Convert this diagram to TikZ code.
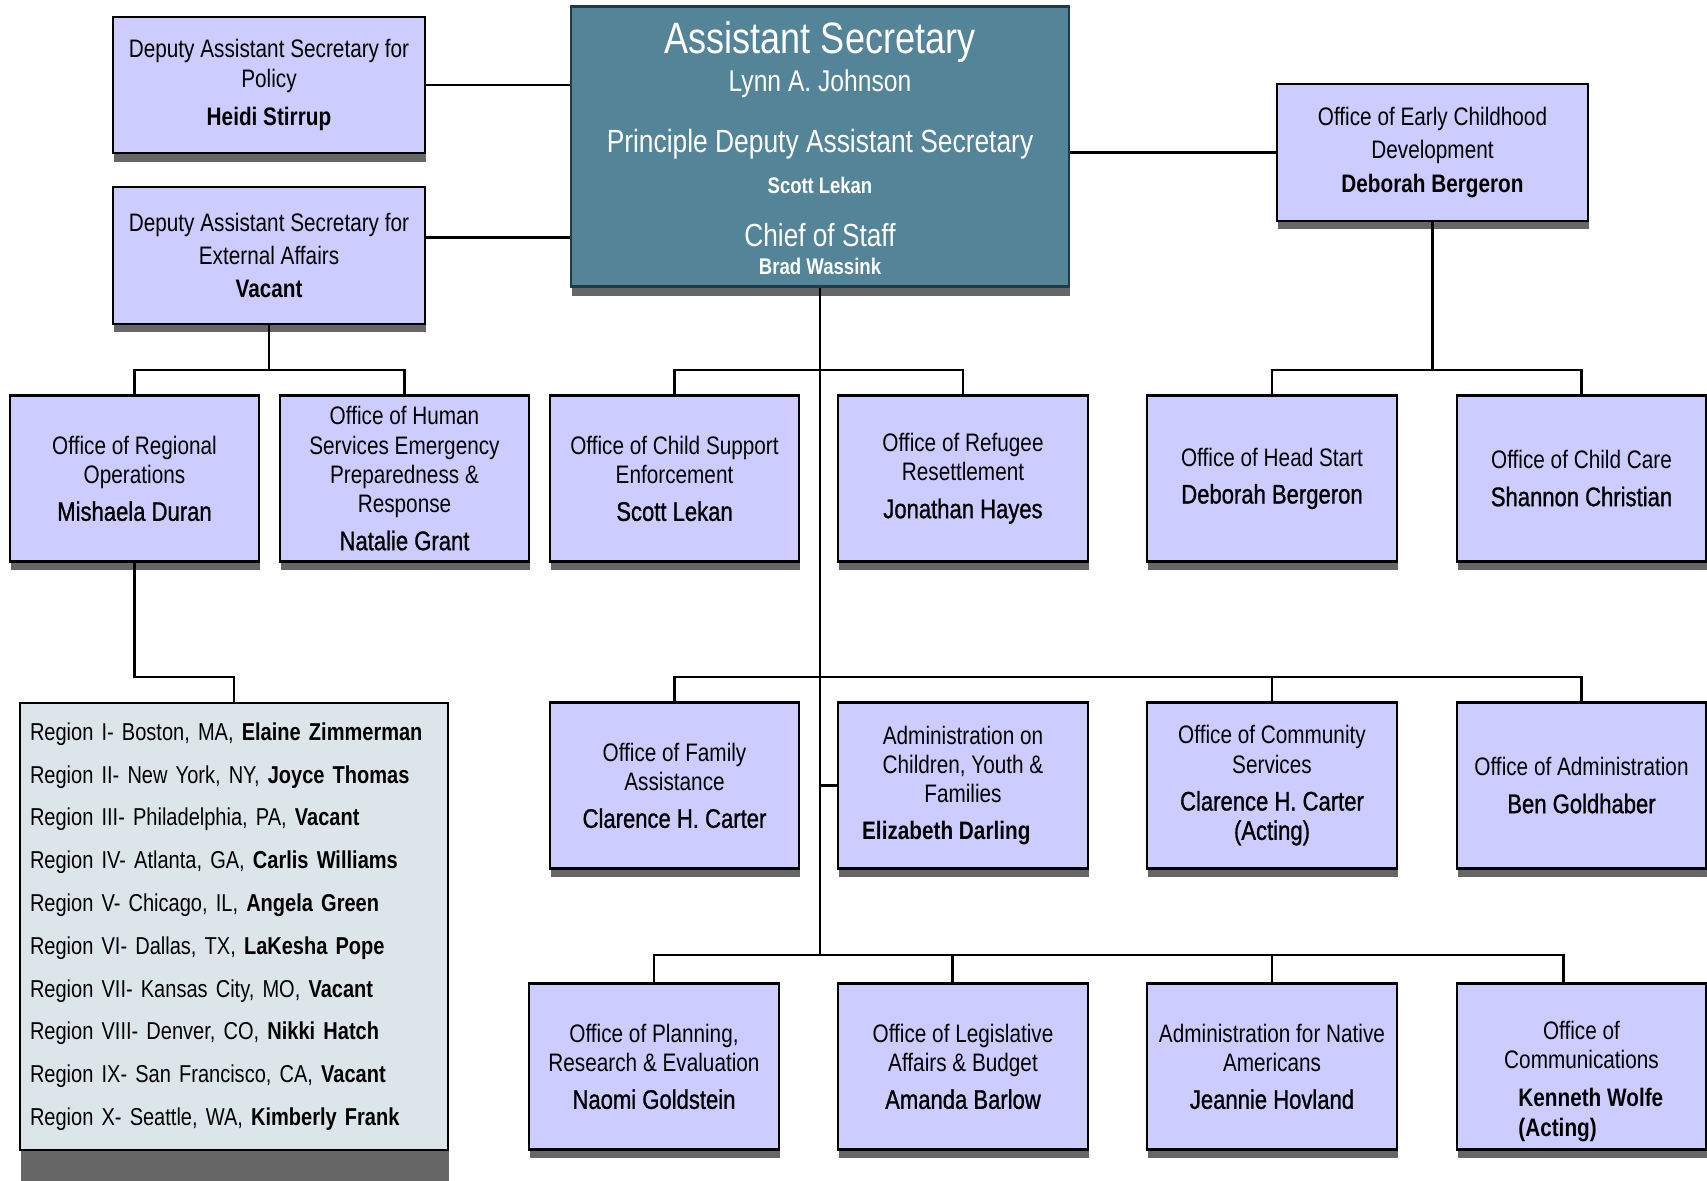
\documentclass[tikz,border=0pt]{standalone}
\usepackage{fontspec}
\setmainfont{Liberation Sans}[FakeStretch=0.82]
\newfontfamily\namefont{Liberation Sans}[FakeStretch=0.82, FakeBold=1.0]
\usepackage{xcolor}
\usepackage{tikz}
\usetikzlibrary{shadows}

\definecolor{lav}{HTML}{CCCCFF}
\definecolor{regfill}{HTML}{DCE6EA}
\definecolor{chieffill}{HTML}{548498}
\definecolor{chiefline}{HTML}{1C3D47}
\definecolor{shade}{HTML}{666666}

\newcommand{\headname}[1]{{\namefont\fontsize{15.3}{16.7}\selectfont #1}}
\newcommand{\headbold}[1]{{\fontsize{14.4}{16.7}\selectfont\bfseries #1}}

\begin{document}
\begin{tikzpicture}[
    unit/.style={rectangle, draw=black, line width=1.3pt, fill=lav, minimum width=4.99cm, minimum height=3.32cm, inner sep=0pt, align=center, font=\fontsize{14.4}{16.7}\selectfont, drop shadow={shadow xshift=0.02cm, shadow yshift=-0.17cm, fill=shade, opacity=1}},
    deputy/.style={unit, minimum width=6.23cm, minimum height=2.73cm},
    chief/.style={rectangle, draw=chiefline, line width=1.3pt, fill=chieffill, minimum width=9.97cm, minimum height=5.60cm, drop shadow={shadow xshift=0.02cm, shadow yshift=-0.2cm, fill=shade, opacity=1}},
    chieftext/.style={text=white, anchor=base, inner sep=0pt},
    regionbox/.style={rectangle, draw=black, line width=1.3pt, fill=regfill, text width=8.16cm, inner xsep=0.2cm, inner ysep=0pt, minimum height=8.93cm, align=left, font=\fontsize{13.9}{24.35}\selectfont, drop shadow={shadow xshift=0.02cm, shadow yshift=-0.64cm, fill=shade, opacity=1}},
    link/.style={line width=1.2pt}
]
\useasboundingbox (0,0) rectangle (34.14,-23.62);

% Top
\node[chief] (asec) at (16.40,-2.93) {};
\node[chieftext, font=\fontsize{25}{28}\selectfont] (asec-title) at ([yshift=-0.96cm]asec.north) {Assistant Secretary};
\node[chieftext, font=\fontsize{17.1}{20}\selectfont] (asec-name) at ([yshift=-1.72cm]asec.north) {Lynn A. Johnson};
\node[chieftext, font=\fontsize{18.3}{21}\selectfont] (pdas-title) at ([yshift=-2.95cm]asec.north) {Principle Deputy Assistant Secretary};
\node[chieftext, font=\fontsize{12.8}{15}\selectfont\bfseries] (pdas-name) at ([yshift=-3.77cm]asec.north) {Scott Lekan};
\node[chieftext, font=\fontsize{18.2}{21}\selectfont] (cos-title) at ([yshift=-4.83cm]asec.north) {Chief of Staff};
\node[chieftext, font=\fontsize{12.9}{15}\selectfont\bfseries] (cos-name) at ([yshift=-5.39cm]asec.north) {Brad Wassink};

\node[deputy] (pol) at (5.38,-1.70) {Deputy Assistant Secretary for\\Policy\\[5pt]\headbold{Heidi Stirrup}};
\node[deputy] (ext) at (5.38,-5.11) {Deputy Assistant Secretary for\\[2.3pt]External Affairs\\[2.3pt]\headbold{Vacant}};
\node[deputy] (ecd) at (28.65,-3.05) {Office of Early Childhood\\[2.3pt]Development\\[2.3pt]\headbold{Deborah Bergeron}};

% Row 2
\node[unit] (regops) at (2.69,-9.57) {Office of Regional\\Operations\\[4.5pt]\headname{Mishaela Duran}};
\node[unit] (hsepr) at (8.09,-9.57) {Office of Human\\Services Emergency\\Preparedness \&\\Response\\[4.5pt]\headname{Natalie Grant}};
\node[unit] (ocse) at (13.49,-9.57) {Office of Child Support\\Enforcement\\[4.5pt]\headname{Scott Lekan}};
\node[unit] (orr) at (19.26,-9.57) {Office of Refugee\\Resettlement\\[4.5pt]\headname{Jonathan Hayes}};
\node[unit] (ohs) at (25.44,-9.57) {Office of Head Start\\[4.5pt]\headname{Deborah Bergeron}};
\node[unit] (occ) at (31.63,-9.57) {Office of Child Care\\[4.5pt]\headname{Shannon Christian}};

% Row 3
\node[unit] (ofa) at (13.49,-15.71) {Office of Family\\Assistance\\[4.5pt]\headname{Clarence H. Carter}};
\node[unit] (acyf) at (19.26,-15.71) {Administration on\\Children, Youth \&\\Families\\[4.5pt]\headbold{Elizabeth Darling}\hspace*{19pt}};
\node[unit] (ocs) at (25.44,-15.71) {Office of Community\\Services\\[4.5pt]\headname{Clarence H. Carter}\\\headname{(Acting)}};
\node[unit] (oa) at (31.63,-15.71) {Office of Administration\\[4.5pt]\headname{Ben Goldhaber}};

% Row 4
\node[unit] (opre) at (13.08,-21.33) {Office of Planning,\\Research \& Evaluation\\[4.5pt]\headname{Naomi Goldstein}};
\node[unit] (olab) at (19.26,-21.33) {Office of Legislative\\Affairs \& Budget\\[4.5pt]\headname{Amanda Barlow}};
\node[unit] (ana) at (25.44,-21.33) {Administration for Native\\Americans\\[4.5pt]\headname{Jeannie Hovland}};
\node[unit] (ocomm) at (31.63,-21.33) {\rule{0pt}{27.5pt}Office of\\Communications\\[4.5pt]\hspace*{10.6pt}\headbold{Kenneth Wolfe}\\[0.6pt]\hspace*{10.6pt}\headbold{\rlap{(Acting)}\phantom{Kenneth Wolfe}}};

% Regions
\node[regionbox] (regions) at (4.68,-18.53) {Region I- Boston, MA, \textbf{Elaine Zimmerman}\\
Region II- New York, NY, \textbf{Joyce Thomas}\\
Region III- Philadelphia, PA, \textbf{Vacant}\\
Region IV- Atlanta, GA, \textbf{Carlis Williams}\\
Region V- Chicago, IL, \textbf{Angela Green}\\
Region VI- Dallas, TX, \textbf{LaKesha Pope}\\
Region VII- Kansas City, MO, \textbf{Vacant}\\
Region VIII- Denver, CO, \textbf{Nikki Hatch}\\
Region IX- San Francisco, CA, \textbf{Vacant}\\
Region X- Seattle, WA, \textbf{Kimberly Frank}};

% Buses
\coordinate (lbus) at (ext.south |- 0,-7.40);
\coordinate (cbus) at (asec.south |- 0,-7.40);
\coordinate (rbus) at (ecd.south |- 0,-7.40);
\coordinate (mbus) at (asec.south |- 0,-13.54);
\coordinate (lowbus) at (asec.south |- 0,-19.10);
\coordinate (rbend) at (regops.south |- mbus);

% Connectors
\draw[link] (pol.east) -- (pol.east -| asec.west);
\draw[link] ([yshift=0.36cm]ext.east) -- ([yshift=0.36cm]ext.east -| asec.west);
\draw[link] (ecd.west) -- (ecd.west -| asec.east);

\draw[link] (ext.south) -- (lbus);
\draw[link] (regops.north) |- (lbus) -| (hsepr.north);
\draw[link] (ecd.south) -- (rbus);
\draw[link] (ohs.north) |- (rbus) -| (occ.north);

\draw[link] (asec.south) -- (lowbus);
\draw[link] (ocse.north) |- (cbus) -| (orr.north);
\draw[link] (ofa.north) |- (mbus) -| (oa.north);
\draw[link] (ocs.north) -- (ocs.north |- mbus);
\draw[link] (acyf.west) -- (acyf.west -| mbus);

\draw[link] (opre.north) |- (lowbus) -| ([xshift=-0.36cm]ocomm.north);
\draw[link] ([xshift=-0.21cm]olab.north) -- ([xshift=-0.21cm]olab.north |- lowbus);
\draw[link] (ana.north) -- (ana.north |- lowbus);

\draw[link] (regops.south) -- (rbend) -| (regions.north);

\end{tikzpicture}
\end{document}
